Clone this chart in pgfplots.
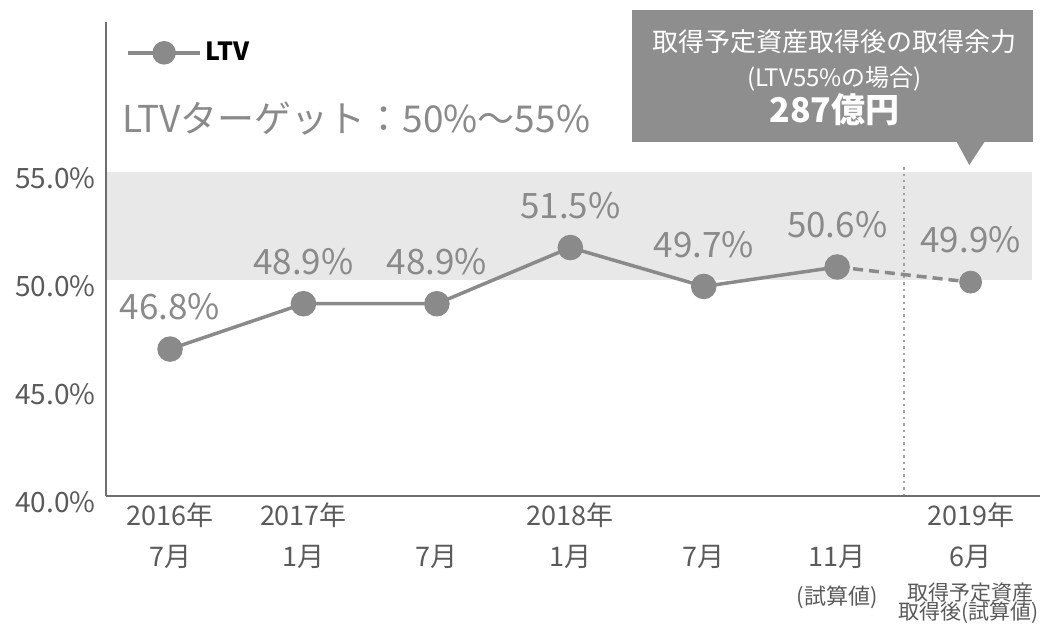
\documentclass[border=0pt]{standalone}
\usepackage{fontspec}
\setmainfont{Noto Sans CJK JP}
\usepackage{pgfplots}
\pgfplotsset{compat=1.18}
\definecolor{axisgray}{HTML}{6E6E6E}
\definecolor{ticktext}{HTML}{5A5A5A}
\definecolor{linegray}{HTML}{8A8A8A}
\definecolor{bandgray}{HTML}{E8E8E8}
\definecolor{boxgray}{HTML}{8E8E8E}
\definecolor{dotgray}{HTML}{A0A0A0}
\begin{document}
\begin{tikzpicture}
\useasboundingbox (-53pt,-64.5pt) rectangle (468.5pt,248pt);
\begin{axis}[
  scale only axis,
  width=467pt, height=237pt,
  xmin=-0.48, xmax=6.52,
  ymin=40, ymax=61.94,
  clip=false,
  axis on top,
  axis x line*=bottom,
  axis y line*=left,
  axis line style={-, color=axisgray, line width=1pt},
  major tick length=0pt,
  tick style={draw=none},
  ytick={40,45,50,55},
  yticklabels={40.0\%,45.0\%,50.0\%,55.0\%},
  yticklabel style={font=\fontsize{14}{16}\selectfont, text=ticktext, anchor=east, inner sep=0pt, xshift=-5pt, yshift=-3pt},
  xtick={0,1,2,3,4,5,6},
  xticklabels={7月,1月,7月,1月,7月,11月,6月},
  xticklabel style={font=\fontsize{13.5}{16}\selectfont, text=ticktext, anchor=center, yshift=-30.5pt},
  legend style={at={(rel axis cs:0.0214,0.935)}, anchor=west, draw=none, fill=none, inner sep=0pt,
    nodes={inner sep=2pt, text=black, font=\bfseries\fontsize{12.5}{15}\selectfont}},
  legend cell align=left,
  legend image code/.code={
    \draw[line width=1.75pt, color=linegray] (0pt,0pt) -- (36pt,0pt);
    \fill[linegray] (18pt,0pt) circle (5pt);
  },
]
% target band
\fill[bandgray] (axis cs:-0.48,50) rectangle (axis cs:6.46,55);
% dotted separator
\draw[dotgray, line width=0.8pt, dash pattern=on 1.2pt off 2pt] (axis cs:5.5,40) -- (axis cs:5.5,55.3);

% main series
\addplot[color=linegray, line width=1.75pt, mark=*, mark size=5.5pt,
  mark options={fill=linegray, draw=linegray},
  nodes near coords={\pgfmathprintnumber[fixed,precision=1,fixed zerofill,assume math mode=true]{\pgfplotspointmeta}\%},
  every node near coord/.append style={anchor=center, yshift=21pt, text=linegray, font=\fontsize{17.5}{21}\selectfont}]
  coordinates {(0,46.8) (1,48.9) (2,48.9) (3,51.5) (4,49.7) (5,50.6)};
\addlegendentry{LTV}
% dashed projection
\addplot[forget plot, color=linegray, line width=1.75pt, dash pattern=on 5pt off 3pt]
  coordinates {(5,50.6) (6,49.9)};
\addplot[forget plot, color=linegray, only marks, mark=*, mark size=5.5pt,
  mark options={fill=linegray, draw=linegray},
  nodes near coords={\pgfmathprintnumber[fixed,precision=1,fixed zerofill,assume math mode=true]{\pgfplotspointmeta}\%},
  every node near coord/.append style={anchor=center, yshift=21pt, text=linegray, font=\fontsize{17.5}{21}\selectfont}]
  coordinates {(6,49.9)};

% target text
\node[anchor=west, text=linegray, font=\fontsize{18.5}{22}\selectfont, inner sep=0pt] at (rel axis cs:0.017,0.797) {LTVターゲット：50\%～55\%};

% x label rows
\begin{scope}[every node/.style={font=\fontsize{13.5}{16}\selectfont, text=ticktext, anchor=center}]
\node[yshift=-9.5pt] at (axis cs:0,40) {2016年};
\node[yshift=-9.5pt] at (axis cs:1,40) {2017年};
\node[yshift=-9.5pt] at (axis cs:3,40) {2018年};
\node[yshift=-9.5pt] at (axis cs:6,40) {2019年};
\node[yshift=-50.5pt, font=\fontsize{11}{14}\selectfont] at (axis cs:5,40) {(試算値)};
\node[yshift=-48.5pt, font=\fontsize{10.5}{13}\selectfont] at (axis cs:6,40) {取得予定資産};
\node[yshift=-58.5pt, xshift=-1pt, font=\fontsize{10.5}{13}\selectfont] at (axis cs:6,40) {取得後(試算値)};
\end{scope}

% callout
\fill[boxgray] (axis cs:3.46,62.5) rectangle (axis cs:6.464,56.39);
\fill[boxgray] (axis cs:5.895,56.40) -- (axis cs:6.105,56.40) -- (axis cs:5.99,55.32) -- cycle;
\node[text=white, font=\fontsize{13}{15}\selectfont] at (axis cs:4.98,61.02) {取得予定資産取得後の取得余力};
\node[text=white, font=\fontsize{12}{14}\selectfont] at (axis cs:4.98,59.31) {(LTV55\%の場合)};
\node[text=white, font=\bfseries\fontsize{17}{20}\selectfont] at (axis cs:4.98,57.87) {287億円};
\end{axis}
\end{tikzpicture}
\end{document}
